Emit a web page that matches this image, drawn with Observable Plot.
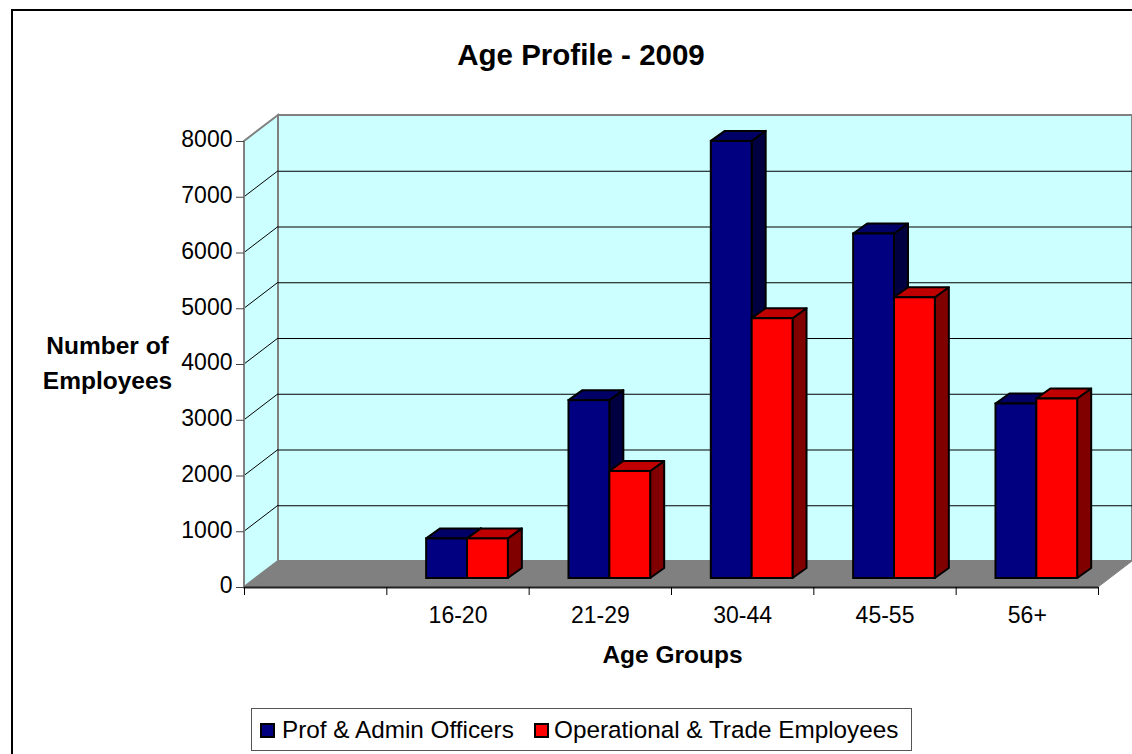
<!DOCTYPE html>
<html>
<head>
<meta charset="utf-8">
<script src="https://cdn.jsdelivr.net/npm/d3@7"></script>
<script src="https://cdn.jsdelivr.net/npm/@observablehq/plot@0.6"></script>
<style>
  html, body { margin: 0; padding: 0; background: #fff; }
  body { width: 1132px; height: 754px; overflow: hidden; position: relative; font-family: "Liberation Sans", Arial, sans-serif; color: #000; }
  #frame { position: absolute; left: 11px; top: 9px; right: 0; bottom: 0; border-left: 2px solid #000; border-top: 2px solid #000; }
  #title { position: absolute; left: 0; top: 38px; width: 1162px; text-align: center; font-weight: bold; font-size: 29.5px; line-height: 34px; }
  #chart { position: absolute; left: 0; top: 90px; }
  #chart svg { display: block; overflow: visible; background: transparent; }
  #legend { position: absolute; left: 251px; top: 708px; width: 659px; height: 41px; border: 1.5px solid #555; background: #fff; font-size: 24.3px; line-height: 41px; white-space: nowrap; }
  #legend .sw { position: absolute; top: 14px; width: 11px; height: 11px; border: 2px solid #000; }
  #legend .lb { position: absolute; top: 0; }
</style>
</head>
<body>
<div id="frame"></div>
<div id="title">Age Profile - 2009</div>
<div id="chart"></div>
<div id="legend"></div>
<script>
const ageGroups = ["", "16-20", "21-29", "30-44", "45-55", "56+"];
const seriesNames = ["Prof & Admin Officers", "Operational & Trade Employees"];
const profAdmin = [null, 710, 3190, 7840, 6180, 3130];
const operational = [null, 710, 1920, 4660, 5035, 3220];
const yTicks = [0, 1000, 2000, 3000, 4000, 5000, 6000, 7000, 8000];

const wallFill = "#ccffff", wallEdge = "#808080";
const depth = {x: 34, y: -26};     // wall depth
const barShift = {x: 9.5, y: -9};  // bars sit inside the depth
const barDepth = {x: 14, y: -10};  // bar's own depth
const barWidth = 0.287;

const rows = (vals, side) => vals
  .map((v, i) => ({v, i}))
  .filter(d => d.v != null)
  .map(d => ({
    x1: d.i + 0.5 + (side === 0 ? -barWidth : 0),
    x2: d.i + 0.5 + (side === 0 ? 0 : barWidth),
    v: d.v
  }));

function prism(data, front, top, sideFill) {
  return Plot.rect(data, {
    x1: "x1", x2: "x2", y1: () => 0, y2: "v",
    fill: front, stroke: "#000", strokeWidth: 2,
    dx: barShift.x, dy: barShift.y,
    render(I, s, v, d, c, next) {
      const g = next(I, s, v, d, c);
      const first = g.firstChild;
      for (const i of I) {
        const l = Math.min(v.x1[i], v.x2[i]), r = Math.max(v.x1[i], v.x2[i]);
        const t = Math.min(v.y1[i], v.y2[i]), b = Math.max(v.y1[i], v.y2[i]);
        const dx = barDepth.x, dy = barDepth.y;
        for (const [pts, fill] of [
          [[[r, t], [r + dx, t + dy], [r + dx, b + dy], [r, b]], sideFill],
          [[[l, t], [l + dx, t + dy], [r + dx, t + dy], [r, t]], top]
        ]) {
          const p = document.createElementNS("http://www.w3.org/2000/svg", "polygon");
          p.setAttribute("points", pts.join(" "));
          p.setAttribute("fill", fill);
          p.setAttribute("stroke-linejoin", "round");
          g.insertBefore(p, first);
        }
      }
      return g;
    }
  });
}

// left wall, floor and the diagonal gridlines, positioned from the scales
function shell(index, {x, y}) {
  const g = d3.create("svg:g");
  const x0 = x(0), x1 = x(6), y0 = y(0), yT = y(8000);
  const P = (...p) => p.map(q => q.join(",")).join(" ");
  g.append("polygon")
    .attr("points", P([x0, y0], [x0 + depth.x, y0 + depth.y], [x0 + depth.x, yT + depth.y], [x0, yT]))
    .attr("fill", wallFill).attr("stroke", wallEdge).attr("stroke-width", 2);
  g.append("polygon")
    .attr("points", P([x0, y0], [x0 + depth.x, y0 + depth.y], [x1 + depth.x, y0 + depth.y], [x1, y0]))
    .attr("fill", "#808080").attr("stroke", "#808080");
  for (const t of yTicks.slice(1, -1)) {
    g.append("line")
      .attr("x1", x0).attr("y1", y(t))
      .attr("x2", x0 + depth.x).attr("y2", y(t) + depth.y)
      .attr("stroke", "#000");
  }
  g.append("line")
    .attr("x1", x0).attr("y1", y0).attr("x2", x0).attr("y2", yT)
    .attr("stroke", wallEdge).attr("stroke-width", 2);
  return g.node();
}

const plot = Plot.plot({
  width: 1132,
  height: 590,
  marginLeft: 244,
  marginRight: 34,
  marginTop: 51,
  marginBottom: 93,
  style: {fontFamily: '"Liberation Sans", Arial, sans-serif', fontSize: "22.5px", color: "#000", background: "transparent"},
  x: {type: "linear", domain: [0, 6], label: null},
  y: {domain: [0, 8000], label: null},
  marks: [
    Plot.rect([0], {x1: () => 0, x2: () => 6, y1: () => 0, y2: () => 8000, dx: depth.x, dy: depth.y, fill: wallFill, stroke: wallEdge, strokeWidth: 2}),
    shell,
    Plot.ruleY(yTicks.slice(1, -1), {x1: () => 0, x2: () => 6, dx: depth.x, dy: depth.y, stroke: "#000", strokeWidth: 1}),
    Plot.ruleY([0], {x1: () => 0, x2: () => 6, stroke: "#222", strokeWidth: 2}),
    Plot.axisY({ticks: yTicks, tickSize: 8, text: null, label: null, stroke: "#444"}),
    Plot.axisY({ticks: yTicks, tickSize: 0, tickPadding: 12, dy: -1.5, fontSize: 23, tickFormat: d => String(d), label: null}),
    Plot.axisX({ticks: [0, 1, 2, 3, 4, 5, 6], text: null, tickSize: 8, label: null}),
    Plot.axisX({ticks: [1.5, 2.5, 3.5, 4.5, 5.5], tickSize: 0, tickPadding: 19, fontSize: 23, tickFormat: d => ageGroups[Math.floor(d)], label: null}),
    prism(rows(profAdmin, 0), "#000080", "#000066", "#000040"),
    prism(rows(operational, 1), "#ff0000", "#c00000", "#800000"),
    Plot.text(["Number of\nEmployees"], {frameAnchor: "left", dx: -137, dy: -4, textAnchor: "middle", fontWeight: "bold", fontSize: 24.5, lineHeight: 1.43}),
    Plot.text(["Age Groups"], {frameAnchor: "bottom", dx: 1, dy: 75, textAnchor: "middle", fontWeight: "bold", fontSize: 24.5})
  ]
});
document.getElementById("chart").appendChild(plot);

const legend = document.getElementById("legend");
[["#000080", 8, 30, seriesNames[0]], ["#ff0000", 282, 302, seriesNames[1]]].forEach(([c, sx, lx, t]) => {
  const s = document.createElement("span"); s.className = "sw"; s.style.left = sx + "px"; s.style.background = c;
  const l = document.createElement("span"); l.className = "lb"; l.style.left = lx + "px"; l.textContent = t;
  legend.append(s, l);
});
</script>
</body>
</html>
